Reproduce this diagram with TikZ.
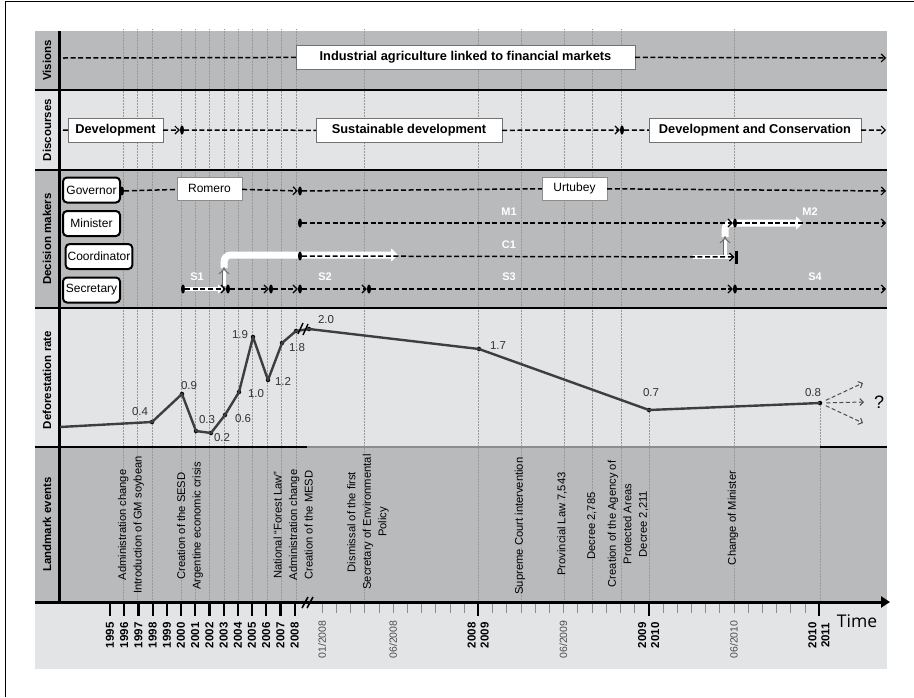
\documentclass[tikz,border=0pt]{standalone}
\usepackage{fontspec}
\setmainfont{Liberation Sans}
\newfontfamily\timefont{Open Sans}
\usetikzlibrary{arrows.meta,shapes.geometric,positioning}

\definecolor{bandDark}{RGB}{185,186,188}
\definecolor{bandLight}{RGB}{227,228,230}
\definecolor{rateGray}{RGB}{62,62,62}

\tikzset{
  trail/.style={line width=1.5pt, dash pattern=on 5pt off 2.6pt},
  trailto/.style={trail, -{Straight Barb[length=4pt,width=8pt,line width=1.2pt]}},
  knot/.style={ellipse, fill=black, inner sep=0pt, minimum width=4pt, minimum height=9pt},
  topic/.style={draw=black!55, fill=white, font=\bfseries\fontsize{12.8}{14}\selectfont, minimum height=24pt, inner sep=0pt},
  leader/.style={draw=black!45, fill=white, font=\fontsize{12}{14}\selectfont, minimum height=23pt, minimum width=65pt, inner sep=0pt},
  role/.style={draw, line width=2pt, rounded corners=4pt, fill=white, font=\fontsize{12}{14}\selectfont, minimum height=25pt, minimum width=57pt, inner xsep=2pt},
  stage/.style={text=white, font=\bfseries\fontsize{11}{13}\selectfont},
  flow/.style={white, line width=7pt},
  lift/.style={draw=black!60, double=white, double distance=3pt, line width=0.8pt, -{Implies}},
  bandlabel/.style={rotate=90, font=\bfseries\fontsize{11.5}{13}\selectfont},
  event/.style={rotate=90, align=center, font=\fontsize{11.2}{15.5}\selectfont},
  yearlabel/.style={rotate=90, anchor=east, align=center, font=\bfseries\fontsize{11.5}{13}\selectfont},
  monthlabel/.style={rotate=90, anchor=east, text=black!70, font=\fontsize{10.5}{12}\selectfont},
  rate/.style={circle, fill=black, inner sep=0pt, minimum size=4.5pt},
  ratelabel/.style={text=black!80, font=\fontsize{11.5}{13}\selectfont, inner sep=1pt},
  guide/.style={black!40, line width=0.5pt, densely dotted},
  guess/.style={black!70, line width=1pt, dash pattern=on 4pt off 2.5pt, -{Straight Barb[length=3.5pt,width=7pt]}},
}

\begin{document}
\begin{tikzpicture}[x=1pt,y=-1pt]
\useasboundingbox (0,0) rectangle (914,697);
\draw[line width=1pt] (5,697) -- (5,1.5) -- (914,1.5);

% bands
\fill[bandDark] (35,31) rectangle (887,90);
\fill[bandLight] (35,90) rectangle (887,170);
\fill[bandDark] (35,170) rectangle (887,308);
\fill[bandLight] (35,308) rectangle (887,447);
\fill[bandDark] (35,447) rectangle (887,602);
\fill[bandLight] (35,602) rectangle (887,669);

% dotted guides
\foreach \x in {123,137,152,181,195,209,224,238,252,267,281,296,364,478,521,564,592,621,734}
  \draw[guide] (\x,29) -- (\x,602);
\draw[guide] (649,410) -- (649,602);
\draw[guide] (820,403) -- (820,602);

% separators
\foreach \y in {90,170,308}
  \draw[line width=1.8pt] (35,\y) -- (887,\y);
\draw[line width=1.8pt] (35,447) -- (307,447);
\draw[black!45, line width=1.2pt] (307,447) -- (820,447);
\draw[line width=1.8pt] (820,447) -- (887,447);
\draw[line width=3pt] (59,31) -- (59,602);

% band labels
\node[bandlabel] (lbVis) at (47,60.5) {Visions};
\node[bandlabel] (lbDis) at (47,130) {Discourses};
\node[bandlabel] (lbDec) at (47,239) {Decision makers};
\node[bandlabel] (lbDef) at (47,380) {Deforestation rate};
\node[bandlabel] (lbLan) at (47,524.5) {Landmark events};

% visions
\coordinate (vA) at (63,58);
\coordinate (vB) at (886,58);
\node[topic, minimum width=339pt] (vis) at (465.5,57) {Industrial agriculture linked to financial markets};
\draw[trail] (vA) -- (vis);
\draw[trailto] (vis) -- (vB);

% discourses
\coordinate (dA) at (63,130);
\coordinate (dB) at (886,130);
\node[topic, minimum width=95pt] (dev) at (115.5,130.5) {Development};
\node[knot] (d1) at (182,130) {};
\node[topic, minimum width=186pt] (sus) at (409,130.5) {Sustainable development};
\node[knot] (d2) at (622,130) {};
\node[topic, minimum width=212pt] (con) at (755,130.5) {Development and Conservation};
\draw[trail] (dA) -- (dev);
\draw[trailto] (dev) -- (d1);
\draw[trail] (d1) -- (sus);
\draw[trailto] (sus) -- (d2);
\draw[trail] (d2) -- (con);
\draw[trailto] (con) -- (dB);

% decision makers
\node[role] (gov) at (91.5,190) {Governor};
\node[role] (min) at (91.5,223.5) {Minister};
\node[role] (coo) at (99,256.5) {Coordinator};
\node[role] (sec) at (91.5,290) {Secretary};

\draw[flow, line width=4pt, -{Triangle[length=5pt,width=9pt]}] (183,289) -- (223,289);
\draw[flow, rounded corners=7pt, -{Triangle[length=7pt,width=13pt]}] (224,268) |- (398,255);
\draw[lift] (224,286) -- (224,267);
\draw[flow, line width=4pt] (693,257) -- (731,257);
\draw[flow, rounded corners=7pt, -{Triangle[length=7pt,width=13pt]}] (725,237) |- (803,223);
\draw[lift] (725,255) -- (725,236);

\node[knot] (g1) at (122,191) {};
\node[leader] (rom) at (209.5,188.5) {Romero};
\node[knot] (g2) at (300,191) {};
\node[leader] (urt) at (574.5,188.5) {Urtubey};
\coordinate (gB) at (886,191);
\draw[trail] (g1) -- (rom);
\draw[trailto] (rom) -- (g2);
\draw[trail] (g2) -- (urt);
\draw[trailto] (urt) -- (gB);

\node[knot] (m1) at (300,223) {};
\node[knot] (m2) at (735,223) {};
\coordinate (mB) at (886,223);
\draw[trailto] (m1) -- (m2);
\draw[trailto] (m2) -- (mB);

\node[knot] (c1) at (300,256) {};
\node[fill=black, inner sep=0pt, minimum width=3pt, minimum height=13pt] (c2) at (736,257) {};
\draw[trailto] (c1) -- (c2);

\node[knot] (s1) at (183,289) {};
\node[knot] (s2) at (228,289) {};
\node[knot] (s3) at (271,289) {};
\node[knot] (s4) at (300,289) {};
\node[knot] (s5) at (369,289) {};
\node[knot] (s6) at (735,289) {};
\coordinate (sB) at (886,289);
\draw[trailto] (s1) -- (s2);
\draw[trailto] (s2) -- (s3);
\draw[trailto] (s3) -- (s4);
\draw[trailto] (s4) -- (s5);
\draw[trailto] (s5) -- (s6);
\draw[trailto] (s6) -- (sB);

\node[stage] (tS1) at (197,277) {S1};
\node[stage] (tS2) at (325,277) {S2};
\node[stage] (tS3) at (509,277) {S3};
\node[stage] (tS4) at (815,277) {S4};
\node[stage] (tC1) at (509,245) {C1};
\node[stage] (tM1) at (509,212) {M1};
\node[stage] (tM2) at (810,212) {M2};

% deforestation rate
\coordinate (r0) at (60,427);
\foreach \n/\x/\y in {1/152/422, 2/182/394, 3/196/431, 4/211/433, 5/225/415, 6/239/392, 7/253/337,
                      8/268/380, 9/282/343, 10/296/331, 11/309/329, 12/479/349, 13/649/410, 14/820/403}
  \node[rate] (r\n) at (\x,\y) {};
\draw[rateGray, line width=2.4pt, line join=round]
  (r0) -- (r1.center) -- (r2.center) -- (r3.center) -- (r4.center) -- (r5.center) -- (r6.center)
  -- (r7.center) -- (r8.center) -- (r9.center) -- (r10.center) -- (r11.center) -- (r12.center)
  -- (r13.center) -- (r14.center);
\draw[line width=1.4pt] (298,334) -- (303,323) (303,335) -- (308,324);
\foreach \n/\v/\x/\y in {1/0.4/140/412, 2/0.9/189/386, 3/0.3/207/420, 4/0.2/222/438, 5/0.6/243/419,
                         6/1.0/256/394, 7/1.9/240/335, 8/1.2/283/381, 9/1.8/297/348, 11/2.0/326/320,
                         12/1.7/498/346, 13/0.7/651/393, 14/0.8/813/393}
  \node[ratelabel] (v\n) at (\x,\y) {\v};
\coordinate (q1) at (863,383);
\coordinate (q2) at (864,402);
\coordinate (q3) at (863,423);
\draw[guess, shorten <=4pt] (r14) -- (q1);
\draw[guess, shorten <=4pt] (r14) -- (q2);
\draw[guess, shorten <=4pt] (r14) -- (q3);
\node[font=\fontsize{18}{20}\selectfont] (qmark) at (879,402) {?};

% landmark events
\node[event] (e1) at (131,525) {Administration change\\Introduction of GM soybean};
\node[event] (e2) at (190,526) {Creation of the SESD\\Argentine economic crisis};
\node[event] (e3) at (293,525) {National “Forest Law”\\Administration change\\Creation of the MESD};
\node[event] (e4) at (368,522) {Dismissal of the first\\Secretary of Environmental\\Policy};
\node[event] (e5) at (520,526) {Supreme Court intervention};
\node[event] (e6) at (562,524) {Provincial Law 7,543};
\node[event] (e7) at (592,526) {Decree 2,785};
\node[event] (e8) at (628,524) {Creation of the Agency of\\Protected Areas\\Decree 2,211};
\node[event] (e9) at (733,518) {Change of Minister};

% time axis
\foreach \m in {0,...,35}
  \draw[black!45, line width=0.6pt] (322+14.2*\m,602) -- ++(0,11);
\draw[line width=3pt, -{Triangle[length=9pt,width=11pt]}] (35,602) -- (890,602);
\draw[line width=1.6pt] (302,608) -- (308,597) (307,608) -- (313,597);
\foreach \yr [count=\i from 0] in {1995,...,2008} {
  \draw[line width=2.2pt] (110+14.2*\i,602) -- ++(0,14);
  \node[yearlabel] (y\yr) at (110+14.2*\i,619) {\yr};
}
\foreach \m/\ya/\yb in {11/2008/2009, 23/2009/2010, 35/2010/2011} {
  \draw[line width=2.2pt] (322+14.2*\m,602) -- ++(0,14);
  \node[yearlabel] (t\ya) at (322+14.2*\m,619) {\ya\\\yb};
}
\node[monthlabel] (mo1) at (322,617) {01/2008};
\node[monthlabel] (mo2) at (393,617) {06/2008};
\node[monthlabel] (mo3) at (563.4,617) {06/2009};
\node[monthlabel] (mo4) at (733.8,617) {06/2010};
\node[font=\timefont\fontsize{17.5}{20}\selectfont, inner sep=0pt] (time) at (857,621) {Time};

\end{tikzpicture}
\end{document}
